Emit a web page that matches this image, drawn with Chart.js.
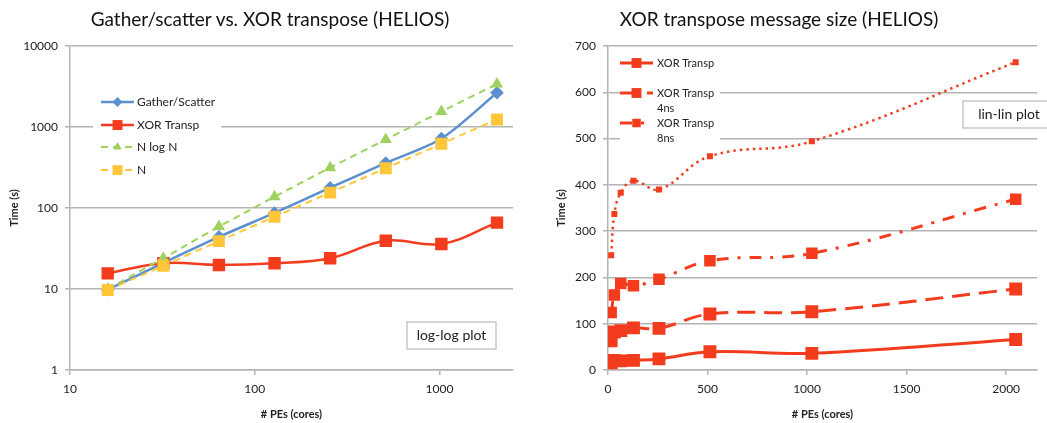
<!DOCTYPE html>
<html>
<head>
<meta charset="utf-8">
<script src="https://cdn.jsdelivr.net/npm/chart.js@4.4.1/dist/chart.umd.min.js"></script>
<style>
body { margin: 0; background: #fff; width: 1047px; height: 423px; overflow: hidden; position: relative; font-family: Lato, sans-serif; }
.box { position: absolute; top: 0; height: 423px; }
#left { left: 0; width: 523px; }
#right { left: 523px; width: 524px; }
.title { position: absolute; top: 7px; font-size: 19px; color: #111; white-space: nowrap; transform: translateX(-50%); }
</style>
</head>
<body>
<div class="box" id="left"><canvas id="logChart"></canvas></div>
<div class="box" id="right"><canvas id="linChart"></canvas></div>
<div class="title" style="left:270px">Gather/scatter vs. XOR transpose (HELIOS)</div>
<div class="title" style="left:779px">XOR transpose message size (HELIOS)</div>
<script>
// number of cores for every run
var pes = [16, 32, 64, 128, 256, 512, 1024, 2048];

// log-log chart (seconds)
var gatherScatter = [9.8, 21, 44, 87, 178, 360, 720, 2650];
var xorTransp = [15.6, 20.8, 19.8, 20.8, 24, 39.5, 36, 66];
var nLogN = [10, 24, 59, 138, 315, 700, 1550, 3400];
var nLinear = [9.7, 19.4, 39, 78, 155, 310, 620, 1240];

// lin-lin chart (seconds)
var xor4ns = [63, 82, 85, 91, 90, 121, 126, 175];
var xor8ns = [124, 162, 187, 182, 196, 236, 252, 369];
var xor16ns = [248, 337, 383, 409, 390, 462, 494, 665];

var logXTicks = [10, 100, 1000];
var logYTicks = [1, 10, 100, 1000, 10000];
var linXTicks = [0, 500, 1000, 1500, 2000];

var blue = '#5b8fcd', red = '#f33c1d', green = '#9fd15f', yellow = '#fec73a';
var gridColor = '#b4b4b4', textColor = '#222';

function pts(arr) {
    return pes.map(function(p, i) { return { x: p, y: arr[i] }; });
}

function keepTicks(list) {
    return function(scale) {
        scale.ticks = list.map(function(v) { return { value: v }; });
    };
}

function plain(v) { return String(v); }

// small marker for the legend rows
function marker(ctx, style, r, x, y, color) {
    ctx.fillStyle = color;
    ctx.beginPath();
    if (style === 'rect') {
        var s = Math.SQRT1_2 * r;
        ctx.rect(x - s, y - s, 2 * s, 2 * s);
    } else if (style === 'rectRot') {
        ctx.moveTo(x, y - r); ctx.lineTo(x + r, y); ctx.lineTo(x, y + r); ctx.lineTo(x - r, y);
        ctx.closePath();
    } else if (style === 'triangle') {
        ctx.moveTo(x, y - r);
        ctx.lineTo(x + r * 0.866, y + r * 0.5);
        ctx.lineTo(x - r * 0.866, y + r * 0.5);
        ctx.closePath();
    }
    ctx.fill();
}

// legend and note box drawn inside the plot, like the original
var insideLegend = {
    id: 'insideLegend',
    afterDraw: function(chart, args, opts) {
        var ctx = chart.ctx;
        ctx.save();
        ctx.fillStyle = '#fff';
        ctx.fillRect(opts.box[0], opts.box[1], opts.box[2], opts.box[3]);
        opts.items.forEach(function(item) {
            var ds = chart.data.datasets[item.index];
            ctx.strokeStyle = ds.borderColor;
            ctx.lineWidth = ds.borderWidth;
            ctx.setLineDash(ds.borderDash || []);
            ctx.beginPath();
            ctx.moveTo(opts.x0, item.y);
            ctx.lineTo(opts.x1, item.y);
            ctx.stroke();
            ctx.setLineDash([]);
            marker(ctx, ds.pointStyle, ds.pointRadius, (opts.x0 + opts.x1) / 2, item.y, ds.borderColor);
            ctx.fillStyle = textColor;
            ctx.font = opts.fontSize + 'px Lato';
            ctx.textBaseline = 'middle';
            ctx.textAlign = 'left';
            item.text.forEach(function(line, k) {
                ctx.fillText(line, opts.textX, item.y + k * opts.lineGap);
            });
        });
        var n = opts.note;
        ctx.fillStyle = '#fff';
        ctx.fillRect(n.x, n.y, n.w, n.h);
        ctx.strokeStyle = '#c8c8c8';
        ctx.lineWidth = 1.5;
        ctx.strokeRect(n.x, n.y, n.w, n.h);
        ctx.fillStyle = textColor;
        ctx.font = '14px Lato';
        ctx.textAlign = 'center';
        ctx.textBaseline = 'middle';
        ctx.fillText(n.text, n.tx, n.y + n.h / 2);
        ctx.restore();
    }
};

Chart.defaults.font.family = 'Lato';
Chart.defaults.color = textColor;

var tickFont = { size: 12 };
var axisTitleFont = { size: 11, weight: 'bold' };

new Chart(document.getElementById('logChart'), {
    type: 'line',
    data: {
        datasets: [
            { label: 'Gather/Scatter', data: pts(gatherScatter), borderColor: blue, backgroundColor: blue,
              borderWidth: 2.5, pointStyle: 'rectRot', pointRadius: 5, tension: 0.3, order: 4 },
            { label: 'XOR Transp', data: pts(xorTransp), borderColor: red, backgroundColor: red,
              borderWidth: 2.5, pointStyle: 'rect', pointRadius: 7, tension: 0.4, order: 3 },
            { label: 'N log N', data: pts(nLogN), borderColor: green, backgroundColor: green,
              borderWidth: 2, borderDash: [7, 5], pointStyle: 'triangle', pointRadius: 5, order: 2 },
            { label: 'N', data: pts(nLinear), borderColor: yellow, backgroundColor: yellow,
              borderWidth: 2, borderDash: [7, 5], pointStyle: 'rect', pointRadius: 7, order: 1 }
        ]
    },
    options: {
        responsive: true,
        maintainAspectRatio: false,
        animation: false,
        events: [],
        layout: { padding: { left: 8, top: 46, right: 10, bottom: 0 } },
        scales: {
            x: {
                type: 'logarithmic', min: 10, max: 2500,
                afterBuildTicks: keepTicks(logXTicks),
                afterFit: function(s) { s.height = 53; },
                grid: { drawOnChartArea: false, tickLength: 5, color: gridColor, lineWidth: 1.5 },
                border: { color: gridColor, width: 1.5 },
                ticks: { font: tickFont, padding: 7, maxRotation: 0, autoSkip: false, callback: plain },
                title: { display: true, text: '# PEs (cores)', font: axisTitleFont, padding: { top: 0, bottom: 2 } }
            },
            y: {
                type: 'logarithmic', min: 1, max: 10000,
                afterBuildTicks: keepTicks(logYTicks),
                afterFit: function(s) { s.width = 62; },
                grid: { tickLength: 5, color: gridColor, lineWidth: 1.5 },
                border: { color: gridColor, width: 1.5 },
                ticks: { font: tickFont, padding: 7, callback: plain },
                title: { display: true, text: 'Time (s)', font: axisTitleFont, padding: { top: 0, bottom: 0 } }
            }
        },
        plugins: {
            legend: { display: false },
            tooltip: { enabled: false },
            insideLegend: {
                box: [93, 86, 128, 94], x0: 101, x1: 134, textX: 137, fontSize: 12, lineGap: 15,
                items: [
                    { index: 0, y: 102, text: ['Gather/Scatter'] },
                    { index: 1, y: 125, text: ['XOR Transp'] },
                    { index: 2, y: 147, text: ['N log N'] },
                    { index: 3, y: 170, text: ['N'] }
                ],
                note: { x: 407, y: 322, w: 89, h: 27, tx: 451.5, text: 'log-log plot' }
            }
        }
    },
    plugins: [insideLegend]
});

new Chart(document.getElementById('linChart'), {
    type: 'line',
    data: {
        datasets: [
            { label: 'XOR Transp', data: pts(xorTransp), borderColor: red, backgroundColor: red,
              borderWidth: 3, pointStyle: 'rect', pointRadius: 7, tension: 0.4 },
            { label: 'XOR Transp 4ns', data: pts(xor4ns), borderColor: red, backgroundColor: red,
              borderWidth: 3, borderDash: [18, 9], pointStyle: 'rect', pointRadius: 7, tension: 0.4 },
            { label: 'XOR Transp 8ns', data: pts(xor8ns), borderColor: red, backgroundColor: red,
              borderWidth: 3, borderDash: [12, 9, 3, 9], pointStyle: 'rect', pointRadius: 6, tension: 0.4 },
            { label: 'XOR Transp 16ns', data: pts(xor16ns), borderColor: red, backgroundColor: red,
              borderWidth: 2.5, borderDash: [2.5, 4], pointStyle: 'rect', pointRadius: 2.5, tension: 0.4 }
        ]
    },
    options: {
        responsive: true,
        maintainAspectRatio: false,
        animation: false,
        events: [],
        layout: { padding: { left: 0, top: 46, right: 0, bottom: 0 } },
        scales: {
            x: {
                type: 'linear', min: 0, max: 2155,
                afterBuildTicks: keepTicks(linXTicks),
                afterFit: function(s) { s.height = 53; },
                grid: { drawOnChartArea: false, tickLength: 5, color: gridColor, lineWidth: 1.5 },
                border: { color: gridColor, width: 1.5 },
                ticks: { font: tickFont, padding: 7, maxRotation: 0, autoSkip: false, callback: plain },
                title: { display: true, text: '# PEs (cores)', font: axisTitleFont, padding: { top: 0, bottom: 2 } }
            },
            y: {
                type: 'linear', min: 0, max: 700,
                afterFit: function(s) { s.width = 85; },
                grid: { tickLength: 5, color: gridColor, lineWidth: 1.5 },
                border: { color: gridColor, width: 1.5 },
                ticks: { font: tickFont, padding: 7, stepSize: 100, callback: plain },
                title: { display: true, text: 'Time (s)', font: axisTitleFont, padding: { top: 32, bottom: 0 } }
            }
        },
        plugins: {
            legend: { display: false },
            tooltip: { enabled: false },
            insideLegend: {
                box: [97, 47, 100, 94], x0: 97, x1: 130, textX: 134, fontSize: 11, lineGap: 15.5,
                items: [
                    { index: 0, y: 63, text: ['XOR Transp'] },
                    { index: 1, y: 93, text: ['XOR Transp', '4ns'] },
                    { index: 2, y: 123, text: ['XOR Transp', '8ns'] }
                ],
                note: { x: 440, y: 101, w: 100, h: 27, tx: 486, text: 'lin-lin plot' }
            }
        }
    },
    plugins: [insideLegend]
});
</script>
</body>
</html>
